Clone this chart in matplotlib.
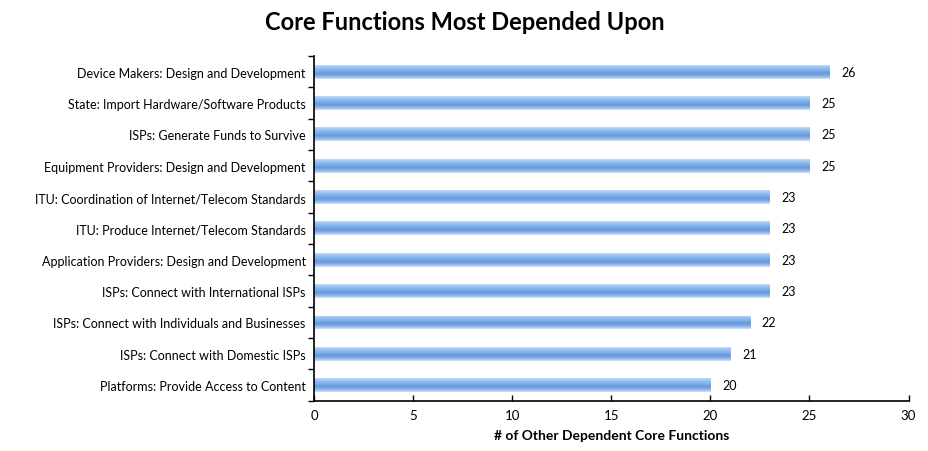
import numpy as np
import matplotlib as mpl
import matplotlib.pyplot as plt
from matplotlib.colors import LinearSegmentedColormap

mpl.use("agg")
plt.rcParams['font.family'] = ['Lato', 'DejaVu Sans']

labels = [
    "Device Makers: Design and Development",
    "State: Import Hardware/Software Products",
    "ISPs: Generate Funds to Survive",
    "Equipment Providers: Design and Development",
    "ITU: Coordination of Internet/Telecom Standards",
    "ITU: Produce Internet/Telecom Standards",
    "Application Providers: Design and Development",
    "ISPs: Connect with International ISPs",
    "ISPs: Connect with Individuals and Businesses",
    "ISPs: Connect with Domestic ISPs",
    "Platforms: Provide Access to Content",
]
values = [26, 25, 25, 25, 23, 23, 23, 23, 22, 21, 20]
xticks = [0, 5, 10, 15, 20, 25, 30]

fig = plt.figure(figsize=(9.29, 4.52), dpi=100)
ax = fig.add_axes([0.338, 0.111, 0.640, 0.763])

pos = np.arange(len(labels))[::-1]
bars = ax.barh(pos, values, height=0.44, color='#7aa8e6', edgecolor='none')

# vertical gradient for each bar
cmap = LinearSegmentedColormap.from_list(
    'g', ['#c2dbf6', '#98c0f0', '#7eaeea', '#6699dd', '#86b1e8', '#cfe2f7'])
grad = np.linspace(0, 1, 64).reshape(-1, 1)
for b in bars:
    x0, y0 = b.get_x(), b.get_y()
    w, h = b.get_width(), b.get_height()
    im = ax.imshow(grad, cmap=cmap, aspect='auto', origin='upper',
                   extent=[x0, x0 + w, y0, y0 + h], zorder=2)
    im.set_clip_path(b)

for p, v in zip(pos, values):
    ax.text(v + 0.6, p, str(v), va='center', ha='left', fontsize=9)

ax.set_xlim(0, 30)
ax.set_ylim(-0.5, len(labels) - 0.5)
ax.set_xticks(xticks)
ax.set_yticks(pos)
ax.set_yticklabels(labels, fontsize=9)
ax.set_yticks(np.arange(len(labels) + 1) - 0.5, minor=True)
ax.tick_params(axis='y', which='major', length=0, pad=6)
ax.tick_params(axis='y', which='minor', length=4, width=1, direction='out')
ax.tick_params(axis='x', length=4, width=1, direction='in', labelsize=9.5, pad=6)

for s in ['top', 'right']:
    ax.spines[s].set_visible(False)
ax.spines['left'].set_linewidth(1.2)
ax.spines['bottom'].set_linewidth(1.2)

ax.set_xlabel("# of Other Dependent Core Functions", fontsize=10, fontweight='bold', labelpad=6)
fig.suptitle("Core Functions Most Depended Upon", fontsize=17, fontweight='bold', y=0.975)

plt.savefig('out.png', dpi=100)
